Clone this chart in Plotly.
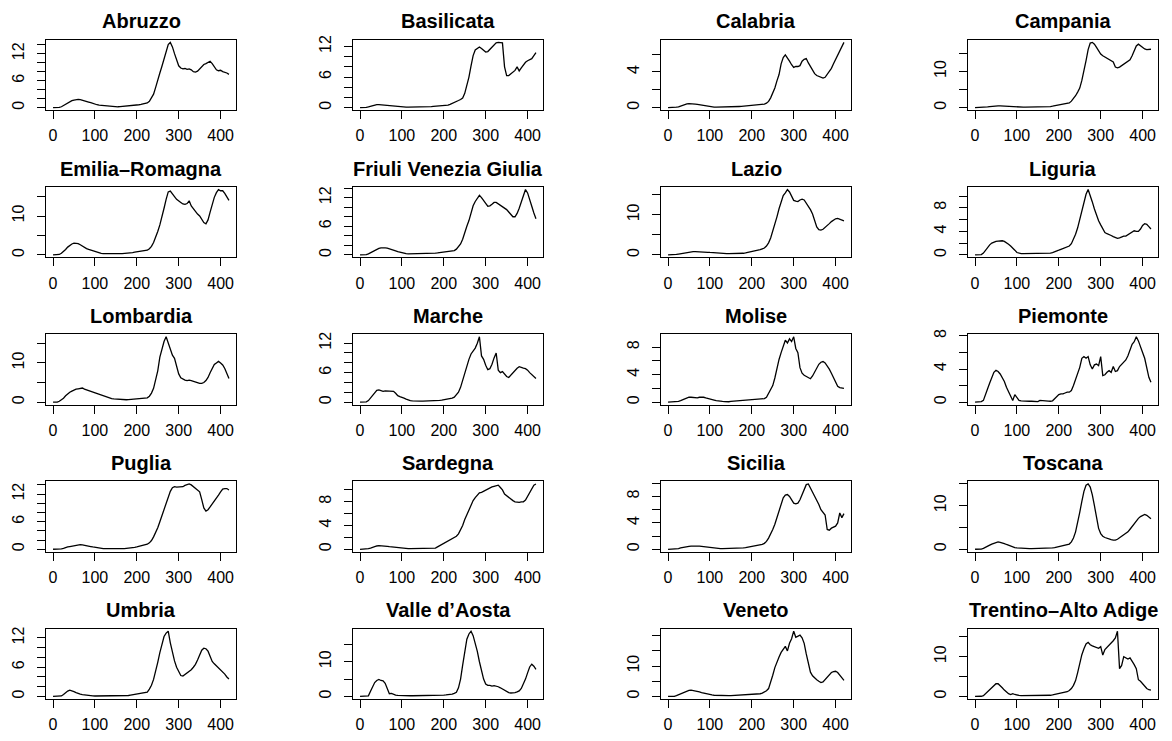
import plotly.graph_objects as go

W, H = 1172, 741
days = list(range(0, 421, 5))  # 85 sample days

abruzzo = [0, 0, 0, 0.05, 0.2, 0.5, 0.8, 1.1, 1.35, 1.55,
           1.7, 1.8, 1.85, 1.8, 1.7, 1.55, 1.4, 1.25, 1.1, 0.9,
           0.75, 0.65, 0.55, 0.5, 0.4, 0.35, 0.3, 0.25, 0.22, 0.2,
           0.2, 0.2, 0.22, 0.25, 0.28, 0.32, 0.38, 0.42, 0.48, 0.52,
           0.58, 0.65, 0.72, 0.8, 0.9, 1.05, 1.4, 2.1, 3.0, 4.5,
           6.3, 7.7, 9.2, 10.8, 12.5, 14.0, 14.5, 13.5, 12.0, 10.5,
           9.3, 8.8, 8.6, 8.7, 8.5, 8.6, 8.4, 8.0, 7.9, 8.1,
           8.6, 9.2, 9.6, 9.8, 10.0, 10.3, 9.8, 9.0, 8.4, 8.2,
           8.3, 8.0, 7.9, 7.7, 7.4]
basilicata = [0, 0, 0, 0.05, 0.15, 0.3, 0.45, 0.55, 0.6, 0.6,
              0.55, 0.5, 0.45, 0.4, 0.35, 0.3, 0.25, 0.2, 0.15, 0.12,
              0.1, 0.1, 0.1, 0.1, 0.1, 0.1, 0.1, 0.1, 0.1, 0.1,
              0.12, 0.15, 0.18, 0.2, 0.22, 0.25, 0.28, 0.3, 0.32, 0.35,
              0.38, 0.42, 0.5, 0.65, 0.8, 1.0, 1.2, 1.4, 1.6, 1.9,
              2.8, 4.2, 6.0, 8.2, 10.2, 11.3, 11.7, 11.9, 11.6, 11.3,
              10.9, 11.0, 11.4, 11.9, 12.4, 12.7, 12.8, 12.8, 12.7, 8.0,
              6.3, 6.3, 6.6, 7.0, 7.3, 8.0, 7.2, 7.8, 8.4, 8.9,
              9.2, 9.4, 9.6, 10.2, 10.8]
calabria = [0, 0, 0, 0.02, 0.05, 0.1, 0.2, 0.3, 0.38, 0.43,
            0.45, 0.45, 0.43, 0.4, 0.36, 0.32, 0.27, 0.22, 0.17, 0.12,
            0.08, 0.06, 0.05, 0.05, 0.05, 0.05, 0.05, 0.06, 0.07, 0.08,
            0.09, 0.1, 0.11, 0.12, 0.13, 0.14, 0.16, 0.18, 0.2, 0.22,
            0.24, 0.26, 0.28, 0.3, 0.32, 0.35, 0.4, 0.5, 0.7, 1.1,
            1.6, 2.2, 3.0, 3.7, 4.9, 5.6, 5.9, 5.6, 5.2, 4.8,
            4.5, 4.6, 4.6, 4.7, 5.2, 5.4, 5.5, 5.0, 4.6, 4.2,
            3.8, 3.6, 3.5, 3.35, 3.3, 3.4, 3.7, 4.0, 4.4, 4.9,
            5.4, 5.9, 6.3, 6.8, 7.3]
campania = [0, 0, 0, 0.02, 0.05, 0.1, 0.2, 0.3, 0.4, 0.45,
            0.5, 0.5, 0.5, 0.45, 0.42, 0.38, 0.34, 0.3, 0.26, 0.22,
            0.2, 0.18, 0.16, 0.15, 0.15, 0.15, 0.15, 0.15, 0.15, 0.15,
            0.15, 0.15, 0.16, 0.18, 0.2, 0.25, 0.3, 0.4, 0.5, 0.55,
            0.6, 0.7, 0.8, 0.9, 1.0, 1.3, 1.8, 2.5, 3.3, 4.3,
            5.4, 7.5, 10.0, 13.0, 16.0, 17.8, 18.0, 17.5, 16.6, 15.6,
            14.8, 14.3, 14.0, 13.7, 13.4, 13.0, 12.6, 11.2, 11.0, 11.2,
            11.6, 12.0, 12.3, 12.6, 13.2, 14.3, 15.8, 17.0, 17.5, 17.0,
            16.5, 16.2, 16.0, 16.1, 16.1]
emilia_romagna = [0, 0, 0, 0.1, 0.4, 0.8, 1.4, 2.0, 2.5, 2.8,
                  3.0, 3.0, 2.9, 2.6, 2.2, 1.9, 1.6, 1.4, 1.2, 1.0,
                  0.8, 0.65, 0.5, 0.4, 0.3, 0.28, 0.25, 0.25, 0.25, 0.25,
                  0.25, 0.27, 0.3, 0.32, 0.35, 0.38, 0.4, 0.5, 0.6, 0.7,
                  0.8, 0.9, 1.0, 1.05, 1.1, 1.2, 1.6, 2.2, 3.2, 4.5,
                  6.0, 7.7, 9.6, 12.0, 14.3, 16.2, 16.4, 15.8, 15.0, 14.3,
                  14.0, 13.5, 13.1, 13.0, 13.2, 13.9, 12.6, 11.8, 11.2, 10.5,
                  10.0, 9.3, 8.3, 8.0, 9.0, 11.0, 13.0, 14.8, 16.0, 16.8,
                  16.5, 16.5, 15.8, 15.0, 14.0]
friuli = [0, 0, 0, 0.05, 0.2, 0.45, 0.7, 0.95, 1.2, 1.35,
          1.45, 1.5, 1.45, 1.4, 1.3, 1.15, 1.0, 0.85, 0.7, 0.55,
          0.4, 0.3, 0.25, 0.2, 0.2, 0.2, 0.2, 0.2, 0.2, 0.2,
          0.2, 0.2, 0.22, 0.25, 0.28, 0.3, 0.35, 0.4, 0.45, 0.5,
          0.55, 0.62, 0.7, 0.75, 0.8, 0.9, 1.2, 1.7, 2.3, 3.3,
          4.8, 6.0, 7.2, 8.8, 10.3, 11.2, 12.0, 12.5, 12.0, 11.5,
          10.8, 10.2, 10.3, 10.6, 11.0, 11.0, 10.7, 10.3, 10.0, 9.8,
          9.5, 9.0, 8.4, 8.0, 8.0, 8.7, 9.8, 11.2, 12.8, 13.7,
          13.0, 11.8, 10.2, 8.8, 7.6]
lazio = [0, 0, 0, 0.05, 0.1, 0.2, 0.3, 0.4, 0.5, 0.6,
         0.7, 0.75, 0.8, 0.8, 0.8, 0.78, 0.75, 0.72, 0.7, 0.65,
         0.6, 0.55, 0.5, 0.42, 0.35, 0.32, 0.3, 0.3, 0.3, 0.3,
         0.3, 0.3, 0.3, 0.3, 0.3, 0.35, 0.4, 0.5, 0.6, 0.7,
         0.8, 0.9, 1.0, 1.15, 1.3, 1.5, 1.7, 2.2, 3.0, 4.2,
         5.8, 7.5, 9.5, 11.5, 13.5, 14.8, 15.5, 16.3, 15.7, 14.5,
         13.6, 13.4, 13.3, 13.7, 13.9, 13.7, 13.0, 12.0, 11.3, 10.2,
         8.5, 7.0, 6.3, 6.2, 6.4, 6.8, 7.3, 7.8, 8.3, 8.7,
         9.0, 9.1, 8.9, 8.7, 8.5]
liguria = [0, 0, 0, 0.05, 0.3, 0.8, 1.3, 1.7, 2.0, 2.2,
           2.3, 2.35, 2.4, 2.4, 2.3, 2.1, 1.8, 1.5, 1.2, 0.8,
           0.4, 0.25, 0.2, 0.2, 0.2, 0.2, 0.2, 0.2, 0.2, 0.2,
           0.2, 0.2, 0.2, 0.2, 0.2, 0.22, 0.3, 0.4, 0.5, 0.65,
           0.8, 0.95, 1.1, 1.2, 1.3, 1.5, 1.9, 2.6, 3.5, 4.6,
           6.0, 7.5, 9.0, 10.3, 11.1, 10.2, 9.0, 7.8, 6.7, 5.8,
           5.1, 4.3, 3.8, 3.6, 3.5, 3.3, 3.1, 2.9, 2.8, 2.9,
           3.1, 3.2, 3.2, 3.4, 3.6, 3.9, 4.1, 4.0, 4.0, 4.4,
           5.0, 5.3, 5.2, 4.8, 4.4]
lombardia = [0, 0, 0, 0.2, 0.5, 1.0, 1.6, 2.1, 2.5, 2.8,
             3.1, 3.3, 3.4, 3.5, 3.6, 3.3, 3.1, 2.9, 2.7, 2.5,
             2.3, 2.1, 1.9, 1.7, 1.5, 1.3, 1.1, 1.0, 0.9, 0.8,
             0.75, 0.7, 0.65, 0.6, 0.6, 0.6, 0.65, 0.7, 0.75, 0.8,
             0.85, 0.9, 0.9, 0.95, 1.0, 1.1, 1.5, 2.3, 3.5, 5.5,
             8.0, 11.5, 13.8, 15.5, 16.7, 15.3, 13.8, 12.0, 11.2, 9.0,
             7.2, 6.2, 5.8, 5.6, 5.5, 5.6, 5.5, 5.3, 5.1, 5.0,
             4.8, 4.8, 5.0, 5.5, 6.3, 7.5, 8.7, 9.6, 10.0, 10.4,
             10.0, 9.5, 8.6, 7.2, 6.0]
marche = [0, 0, 0, 0.05, 0.3, 0.8, 1.4, 2.0, 2.4, 2.5,
          2.3, 2.2, 2.3, 2.3, 2.3, 2.3, 2.2, 1.8, 1.3, 1.1,
          1.0, 0.8, 0.6, 0.4, 0.3, 0.25, 0.2, 0.2, 0.2, 0.2,
          0.2, 0.2, 0.2, 0.2, 0.2, 0.22, 0.25, 0.3, 0.35, 0.4,
          0.45, 0.5, 0.6, 0.7, 0.8, 1.0, 1.4, 2.0, 3.0, 4.5,
          6.0, 7.3, 8.7, 9.8, 10.3, 11.0, 12.0, 13.3, 9.4, 8.7,
          7.5, 6.6, 6.8, 7.7, 9.0, 10.0, 6.5, 6.0, 6.2, 5.6,
          5.2, 5.0, 5.5, 6.0, 6.5, 6.9, 7.2, 7.0, 6.9, 6.8,
          6.5, 6.0, 5.6, 5.2, 4.8]
molise = [0, 0, 0, 0, 0.02, 0.1, 0.2, 0.35, 0.5, 0.6,
          0.7, 0.7, 0.65, 0.65, 0.6, 0.7, 0.75, 0.7, 0.6, 0.5,
          0.45, 0.38, 0.3, 0.22, 0.15, 0.12, 0.1, 0.08, 0.05, 0.05,
          0.1, 0.12, 0.15, 0.18, 0.2, 0.2, 0.2, 0.22, 0.25, 0.28,
          0.3, 0.32, 0.35, 0.38, 0.4, 0.45, 0.5, 0.7, 1.2, 1.7,
          2.4, 3.5, 5.0, 6.2, 7.2, 8.3, 9.0, 8.6, 9.2, 8.8,
          9.5, 7.8, 7.2, 5.0, 4.2, 3.9, 3.7, 3.5, 3.4, 3.8,
          4.4, 5.0, 5.5, 5.8, 5.9, 5.7, 5.3, 4.8, 4.2, 3.5,
          2.8, 2.3, 2.1, 2.1, 2.0]
piemonte = [0, 0, 0, 0.05, 0.2, 0.8, 1.6, 2.3, 3.0, 3.6,
            3.85, 3.7, 3.4, 3.0, 2.5, 1.8, 1.2, 0.6, 0.2, 0.9,
            0.5, 0.2, 0.15, 0.12, 0.1, 0.1, 0.1, 0.1, 0.1, 0.1,
            0.05, 0.2, 0.2, 0.18, 0.15, 0.12, 0.1, 0.15, 0.4, 0.7,
            0.9, 1.0, 1.0, 1.1, 1.2, 1.2, 1.4, 2.0, 2.8, 3.6,
            4.2, 5.3, 5.5, 5.3, 5.5, 4.5, 4.0, 4.5, 4.6, 4.4,
            5.5, 3.2, 3.3, 3.6, 3.8, 3.6, 4.3, 3.7, 3.8, 4.3,
            4.6, 4.8, 5.1, 5.6, 6.4, 7.0, 7.3, 7.9, 7.4, 6.8,
            6.0, 5.3, 4.2, 3.0, 2.4]
puglia = [0, 0, 0, 0.05, 0.1, 0.2, 0.4, 0.5, 0.6, 0.7,
          0.8, 0.9, 0.95, 1.0, 0.95, 0.9, 0.8, 0.7, 0.6, 0.5,
          0.4, 0.32, 0.25, 0.2, 0.15, 0.12, 0.1, 0.1, 0.1, 0.1,
          0.1, 0.1, 0.1, 0.12, 0.15, 0.18, 0.2, 0.25, 0.3, 0.4,
          0.5, 0.6, 0.7, 0.8, 0.9, 1.1, 1.4, 1.9, 2.7, 3.6,
          4.7, 6.0, 7.3, 8.6, 10.0, 11.3, 12.6, 13.4, 13.6, 13.5,
          13.5, 13.6, 13.6, 13.9, 14.1, 14.2, 14.0, 13.6, 13.3, 13.0,
          12.5, 10.8, 9.0, 8.3, 8.6, 9.2, 9.8, 10.5, 11.2, 11.8,
          12.5, 13.1, 13.2, 13.2, 12.9]
sardegna = [0, 0, 0, 0.02, 0.1, 0.2, 0.35, 0.45, 0.55, 0.6,
            0.6, 0.58, 0.55, 0.5, 0.45, 0.4, 0.35, 0.3, 0.25, 0.2,
            0.15, 0.12, 0.1, 0.1, 0.1, 0.1, 0.1, 0.1, 0.1, 0.1,
            0.1, 0.1, 0.1, 0.1, 0.1, 0.12, 0.2, 0.4, 0.6, 0.8,
            1.0, 1.1, 1.3, 1.5, 1.7, 1.9, 2.2, 2.6, 3.2, 4.0,
            5.0, 5.8, 6.7, 7.5, 8.2, 8.7, 9.1, 9.5, 9.6, 9.8,
            10.0, 10.1, 10.3, 10.5, 10.6, 10.7, 10.8, 10.4, 10.0, 9.3,
            9.0, 8.7, 8.4, 8.2, 8.0, 7.9, 7.9, 8.0, 8.0, 8.3,
            8.9, 9.6, 10.3, 10.8, 11.0]
sicilia = [0, 0, 0, 0.02, 0.05, 0.1, 0.2, 0.28, 0.35, 0.4,
           0.45, 0.48, 0.5, 0.5, 0.5, 0.48, 0.45, 0.4, 0.35, 0.32,
           0.3, 0.25, 0.2, 0.15, 0.1, 0.1, 0.1, 0.1, 0.1, 0.1,
           0.1, 0.1, 0.1, 0.12, 0.15, 0.18, 0.2, 0.25, 0.3, 0.35,
           0.4, 0.45, 0.5, 0.58, 0.65, 0.75, 0.9, 1.2, 1.7, 2.3,
           3.0, 3.8, 4.8, 5.8, 7.0, 7.8, 8.2, 8.3, 8.0, 7.4,
           7.0, 6.9, 7.0, 7.5, 8.3, 9.2, 9.8, 9.9, 9.3, 8.7,
           8.0, 7.4, 6.8, 6.0, 5.5, 5.2, 3.0, 2.9, 3.2, 3.4,
           3.5, 4.0, 5.5, 4.8, 5.4]
toscana = [0, 0, 0, 0.05, 0.2, 0.4, 0.7, 0.95, 1.2, 1.4,
           1.6, 1.7, 1.6, 1.5, 1.3, 1.1, 0.9, 0.7, 0.5, 0.4,
           0.3, 0.25, 0.2, 0.17, 0.15, 0.15, 0.15, 0.15, 0.15, 0.15,
           0.15, 0.15, 0.15, 0.17, 0.2, 0.22, 0.25, 0.3, 0.4, 0.5,
           0.6, 0.7, 0.8, 0.9, 1.0, 1.2, 1.7, 2.6, 4.0, 6.0,
           8.5, 11.0, 13.3, 14.7, 15.0, 14.3, 12.5, 10.0, 7.0, 4.8,
           3.6, 3.0, 2.7, 2.5, 2.3, 2.2, 2.1, 2.1, 2.3, 2.6,
           2.9, 3.2, 3.5, 4.0, 4.6, 5.3, 6.0, 6.6, 7.1, 7.5,
           7.8, 8.0, 7.8, 7.4, 7.0]
umbria = [0, 0, 0, 0.02, 0.1, 0.4, 0.8, 1.1, 1.3, 1.2,
          1.0, 0.8, 0.6, 0.5, 0.4, 0.32, 0.25, 0.2, 0.15, 0.12,
          0.1, 0.1, 0.1, 0.1, 0.1, 0.1, 0.1, 0.1, 0.1, 0.1,
          0.1, 0.1, 0.1, 0.1, 0.1, 0.15, 0.2, 0.28, 0.35, 0.42,
          0.5, 0.55, 0.6, 0.65, 0.7, 0.9, 1.5, 2.3, 3.5, 5.0,
          7.0, 9.0, 11.0, 12.3, 13.0, 13.4, 11.0, 9.0, 7.3, 6.0,
          5.0, 4.3, 4.2, 4.5, 4.9, 5.2, 5.5, 6.0, 6.6, 7.5,
          8.6, 9.5, 9.9, 9.8, 9.3, 8.2, 7.2, 6.7, 6.3, 5.9,
          5.5, 5.1, 4.6, 4.0, 3.6]
valle_aosta = [0, 0, 0, 0.05, 0.2, 1.5, 3.0, 4.0, 4.6, 4.9,
               4.6, 4.5, 3.8, 2.0, 0.8, 0.9, 0.6, 0.4, 0.3, 0.25,
               0.2, 0.2, 0.2, 0.2, 0.2, 0.2, 0.2, 0.2, 0.2, 0.2,
               0.2, 0.2, 0.2, 0.2, 0.2, 0.2, 0.2, 0.22, 0.3, 0.35,
               0.4, 0.45, 0.5, 0.6, 0.7, 0.9, 1.2, 2.5, 5.0, 9.0,
               13.5, 16.5, 18.0, 18.8, 17.5, 15.5, 13.0, 10.0, 7.5, 5.0,
               3.6, 3.2, 3.2, 3.0, 3.1, 3.0, 2.8, 2.5, 2.1, 1.7,
               1.4, 1.1, 1.0, 1.0, 1.1, 1.3, 1.6, 2.3, 3.5, 5.0,
               6.8, 8.5, 9.3, 8.7, 7.8]
veneto = [0, 0, 0, 0.05, 0.3, 0.6, 1.0, 1.3, 1.6, 1.8,
          2.0, 2.1, 2.0, 1.9, 1.7, 1.5, 1.3, 1.1, 0.9, 0.75,
          0.6, 0.5, 0.4, 0.35, 0.3, 0.28, 0.25, 0.25, 0.25, 0.28,
          0.3, 0.35, 0.4, 0.42, 0.45, 0.48, 0.5, 0.55, 0.6, 0.62,
          0.65, 0.68, 0.7, 0.8, 0.9, 1.1, 1.4, 1.9, 2.6, 4.5,
          7.0, 9.5, 11.5, 13.0, 14.5, 15.5, 16.5, 15.0, 17.5, 19.0,
          21.5, 19.5, 19.8, 20.2, 19.3, 17.5, 14.0, 10.5, 8.0, 6.8,
          6.0, 5.5, 5.0, 4.6, 4.8, 5.5, 6.3, 7.2, 7.9, 8.2,
          8.3, 7.9, 7.0, 6.0, 5.3]
trentino = [0, 0, 0, 0.05, 0.2, 0.7, 1.2, 1.8, 2.4, 2.9,
            3.2, 3.2, 2.8, 2.2, 1.6, 1.1, 0.7, 0.5, 0.7, 0.5,
            0.3, 0.25, 0.2, 0.2, 0.2, 0.2, 0.2, 0.2, 0.2, 0.2,
            0.2, 0.2, 0.2, 0.22, 0.25, 0.28, 0.3, 0.4, 0.5, 0.65,
            0.8, 0.9, 1.0, 1.1, 1.2, 1.5, 2.0, 2.8, 4.0, 6.0,
            8.5, 10.5, 12.0, 13.2, 13.6, 13.0, 12.7, 12.5, 12.3, 12.1,
            12.5, 10.4, 11.8, 12.3, 12.9, 13.3, 14.0, 14.7, 16.4, 7.0,
            7.8, 10.0, 9.8, 9.4, 9.7, 9.0, 8.0, 7.0, 4.2, 3.8,
            3.2, 2.5, 2.0, 1.7, 1.6]

regions = ["Abruzzo", "Basilicata", "Calabria", "Campania",
           "Emilia\u2013Romagna", "Friuli Venezia Giulia", "Lazio", "Liguria",
           "Lombardia", "Marche", "Molise", "Piemonte",
           "Puglia", "Sardegna", "Sicilia", "Toscana",
           "Umbria", "Valle d\u2019Aosta", "Veneto", "Trentino\u2013Alto Adige"]
series = [abruzzo, basilicata, calabria, campania,
          emilia_romagna, friuli, lazio, liguria,
          lombardia, marche, molise, piemonte,
          puglia, sardegna, sicilia, toscana,
          umbria, valle_aosta, veneto, trentino]
y_tick_step = [2, 2, 2, 5, 5, 2, 5, 2, 5, 2, 2, 2, 2, 2, 2, 5, 2, 5, 5, 5]
y_tick_labels = [[0, 6, 12], [0, 6, 12], [0, 4], [0, 10],
                 [0, 10], [0, 6, 12], [0, 10], [0, 4, 8],
                 [0, 10], [0, 6, 12], [0, 4, 8], [0, 4, 8],
                 [0, 6, 12], [0, 4, 8], [0, 4, 8], [0, 10],
                 [0, 6, 12], [0, 10], [0, 10], [0, 10]]
x_ticks = [0, 100, 200, 300, 400]

col_left = [46, 353, 661, 968]
box_w = 190
row_top0 = 35
box_h = 71
row_h = 148.2
FONT = "Liberation Sans, Arial, Helvetica, sans-serif"

fig = go.Figure()
layout = dict(width=W, height=H, margin=dict(l=0, r=0, t=0, b=0),
              paper_bgcolor="white", plot_bgcolor="white", showlegend=False,
              font=dict(family=FONT, color="black"))
annotations = []
xmin, xmax = min(days), max(days)
xpad = 0.04 * (xmax - xmin)

for i, (name, vals) in enumerate(zip(regions, series)):
    r, c = divmod(i, 4)
    n = i + 1
    xa = "x" if n == 1 else f"x{n}"
    ya = "y" if n == 1 else f"y{n}"
    fig.add_trace(go.Scatter(x=days, y=vals, mode="lines",
                             line=dict(color="black", width=1.3),
                             xaxis=xa, yaxis=ya, hoverinfo="skip"))
    x0 = col_left[c] / W
    x1 = (col_left[c] + box_w) / W
    top = row_top0 + r * row_h
    bot = top + box_h
    ymax = max(vals)
    ymin = min(vals)
    ypad = 0.04 * (ymax - ymin)
    yr = [ymin - ypad, ymax + ypad]
    step = y_tick_step[i]
    tv = []
    v = 0
    while v <= yr[1] + 1e-9:
        tv.append(v)
        v += step
    tt = [str(t) if t in y_tick_labels[i] else "" for t in tv]
    common = dict(showline=True, linecolor="black", linewidth=1, mirror=True,
                  ticks="outside", ticklen=8, tickwidth=1, tickcolor="black",
                  showgrid=False, zeroline=False, fixedrange=True,
                  tickfont=dict(family=FONT, size=16, color="black"))
    layout["xaxis" if n == 1 else f"xaxis{n}"] = dict(
        domain=[x0, x1], anchor=ya, range=[xmin - xpad, xmax + xpad],
        tickvals=x_ticks, ticktext=[str(t) for t in x_ticks],
        ticklabelstandoff=3, **common)
    layout["yaxis" if n == 1 else f"yaxis{n}"] = dict(
        domain=[1 - bot / H, 1 - top / H], anchor=xa, range=yr,
        tickvals=tv, ticktext=tt, tickangle=-90,
        ticklabelstandoff=7, **common)
    annotations.append(dict(text=f"<b>{name}</b>", x=(col_left[c] + box_w / 2) / W,
                            y=1 - (top - 18.5) / H, xref="paper", yref="paper",
                            xanchor="center", yanchor="middle", showarrow=False,
                            font=dict(family=FONT, size=20, color="black")))

layout["annotations"] = annotations
fig.update_layout(**layout)
fig.write_html("out.html", config={"displayModeBar": False, "staticPlot": True},
               post_script="document.body.style.margin='0';document.body.style.overflow='hidden';")
